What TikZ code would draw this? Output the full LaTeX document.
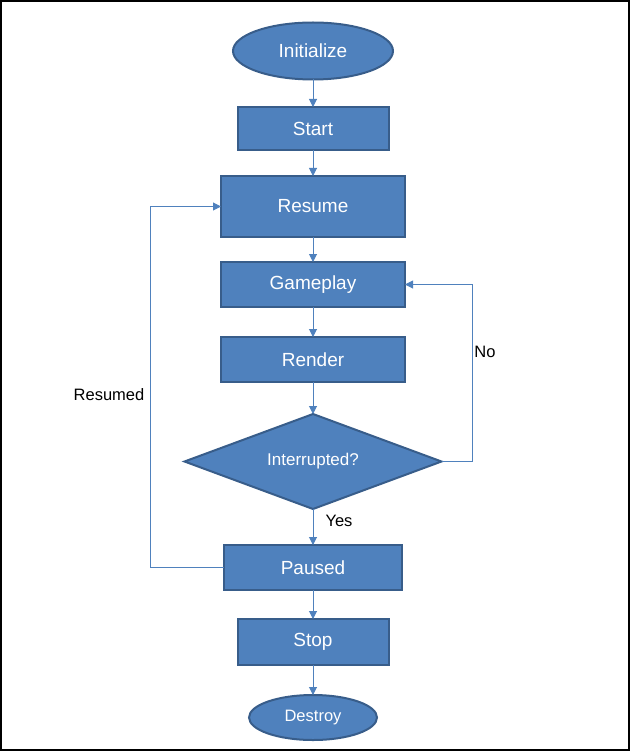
\documentclass[tikz,border=0pt]{standalone}
\usepackage{fontspec}
\setmainfont{Liberation Sans}
\usetikzlibrary{shapes.geometric,arrows.meta}
\definecolor{boxfill}{HTML}{4F81BD}
\definecolor{boxline}{HTML}{385D8A}
\definecolor{conn}{HTML}{4F81BD}
\tikzset{
  shp/.style={fill=boxfill,draw=boxline,line width=2pt,text=white,inner sep=0pt,outer sep=0pt},
  rbox/.style={shp,rectangle,font=\fontsize{19}{21}\selectfont},
  ell/.style={shp,ellipse},
  dia/.style={shp,diamond,font=\fontsize{17}{19}\selectfont},
  conn/.style={draw=conn,line width=1pt,-{Triangle[length=8pt,width=8pt]}},
  lbl/.style={font=\fontsize{16.5}{19}\selectfont,text=black}
}
\begin{document}
\begin{tikzpicture}[x=1pt,y=-1pt]
\useasboundingbox (0,0) rectangle (630,751);
\draw[black,line width=2pt] (1,1) rectangle (629,750);
\node[ell,minimum width=160pt,minimum height=57pt,font=\fontsize{19}{21}\selectfont] (init) at (313,51) {Initialize};
\node[rbox,minimum width=151pt,minimum height=43pt] (start) at (313,128.5) {Start};
\node[rbox,minimum width=184pt,minimum height=61pt] (resume) at (313,206.5) {Resume};
\node[rbox,minimum width=184pt,minimum height=45pt] (game) at (313,284.5) {Gameplay};
\node[rbox,minimum width=184pt,minimum height=45pt] (render) at (313,359.5) {Render};
\node[dia,minimum width=257pt,minimum height=95pt,aspect=2.7] (intr) at (313,461.5) {Interrupted?};
\node[rbox,minimum width=178pt,minimum height=45pt] (paused) at (313,567.5) {Paused};
\node[rbox,minimum width=151pt,minimum height=46pt] (stop) at (313,642) {Stop};
\node[ell,minimum width=128pt,minimum height=45pt,font=\fontsize{16.5}{19}\selectfont] (destroy) at (313,717.5) {Destroy};
\draw[conn] (init) -- (start);
\draw[conn] (start) -- (resume);
\draw[conn] (resume) -- (game);
\draw[conn] (game) -- (render);
\draw[conn] (render) -- (intr);
\draw[conn] (intr) -- (paused);
\draw[conn] (paused) -- (stop);
\draw[conn] (stop) -- (destroy);
\draw[conn] (intr.east) -- (472,461.5) |- (game.east);
\draw[conn] (paused.west) -- (150,567.5) |- (resume.west);
\node[lbl] (no) at (485,352) {No};
\node[lbl] (yes) at (339,521) {Yes};
\node[lbl] (resumed) at (109,395) {Resumed};
\end{tikzpicture}
\end{document}
